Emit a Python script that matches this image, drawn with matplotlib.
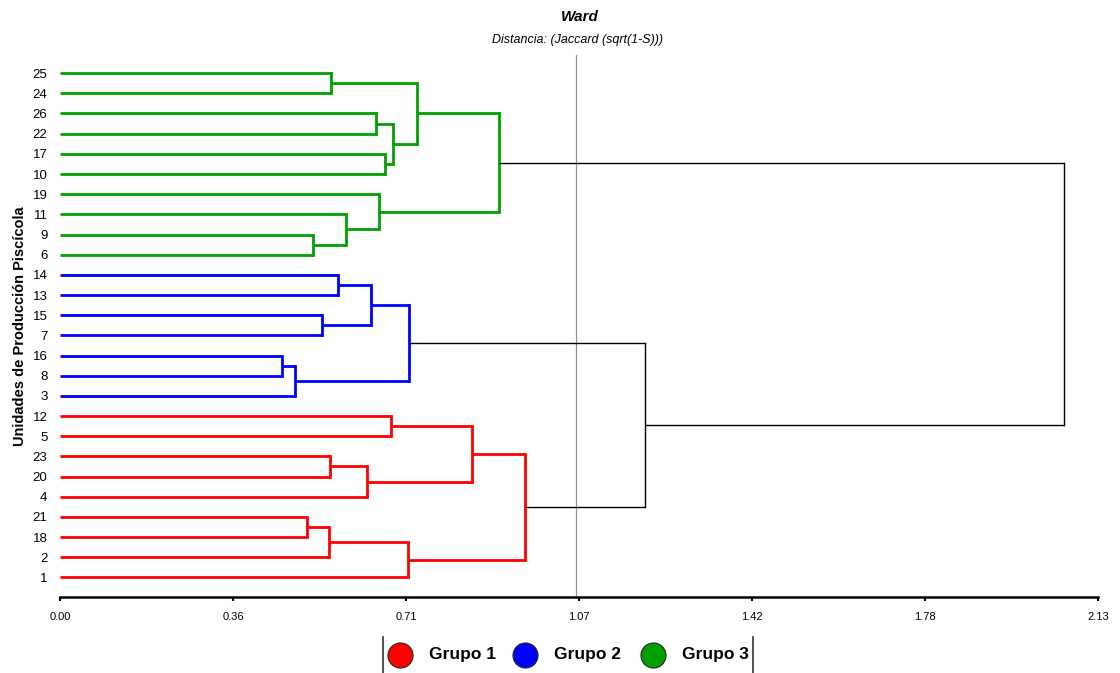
import numpy as np
import matplotlib.pyplot as plt
from matplotlib.lines import Line2D

plt.rcParams['font.family'] = ['Liberation Sans', 'DejaVu Sans']

# Leaves, top to bottom
LEAVES = ['25', '24', '26', '22', '17', '10', '19', '11', '9', '6',
          '14', '13', '15', '7', '16', '8', '3',
          '12', '5', '23', '20', '4', '21', '18', '2', '1']

# Group of each leaf (1, 2, 3)
GROUPS = [3] * 10 + [2] * 7 + [1] * 9

# Merge steps: node n<k> joins MERGE_A[k] and MERGE_B[k] at MERGE_H[k]
MERGE_A = ['16', 'n0', '21', '9', '15', 'n2', '23', '25', '14', '11',
           'n6', 'n8', '26', '19', '17', '12', 'n12', 'n5', 'n11', 'n7',
           'n15', 'n19', 'n20', 'n18', 'n21']
MERGE_B = ['8', '3', '18', '6', '7', '2', '20', '24', '13', 'n3',
           '4', 'n4', '22', 'n9', '10', '5', 'n14', '1', 'n1', 'n16',
           'n10', 'n13', 'n17', 'n22', 'n23']
MERGE_H = [0.456, 0.482, 0.507, 0.519, 0.538, 0.552, 0.554, 0.556, 0.570, 0.587,
           0.630, 0.638, 0.648, 0.654, 0.667, 0.679, 0.683, 0.714, 0.716, 0.733,
           0.845, 0.901, 0.954, 1.200, 2.060]

CUT = 1.058
X_TICKS = [0.0, 0.355, 0.71, 1.065, 1.42, 1.775, 2.13]
X_TICK_LABELS = ['0.00', '0.36', '0.71', '1.07', '1.42', '1.78', '2.13']

GROUP_COLOURS = {1: '#FF0000', 2: '#0000FF', 3: '#00A000'}
GROUP_LABELS = {1: 'Grupo 1', 2: 'Grupo 2', 3: 'Grupo 3'}

fig = plt.figure(figsize=(11.2, 6.73), dpi=100)
ax = fig.add_axes([60 / 1120, 1 - 597 / 673, 1038 / 1120, (597 - 55) / 673])

# position, height and group of every node (leaves first)
pos = {lab: i for i, lab in enumerate(LEAVES)}
hgt = {lab: 0.0 for lab in LEAVES}
grp = {lab: g for lab, g in zip(LEAVES, GROUPS)}

for k, (a, b, h) in enumerate(zip(MERGE_A, MERGE_B, MERGE_H)):
    node = f'n{k}'
    g = grp[a] if grp[a] == grp[b] else None
    colour = GROUP_COLOURS[g] if g else 'black'
    lw = 2.0 if g else 1.0
    for child in (a, b):
        ax.plot([hgt[child], h], [pos[child], pos[child]], color=colour,
                lw=lw, solid_capstyle='butt')
    ax.plot([h, h], [pos[a], pos[b]], color=colour, lw=lw,
            solid_capstyle='projecting')
    pos[node] = (pos[a] + pos[b]) / 2
    hgt[node] = h
    grp[node] = g

# cut level
ax.axvline(CUT, color='#909090', lw=0.9, zorder=0)

ax.set_xlim(0, 2.13)
ax.set_ylim(25.97, -0.9)
ax.set_yticks(range(len(LEAVES)))
ax.set_yticklabels(LEAVES, fontsize=9.5)
ax.tick_params(axis='y', length=0, pad=9)
ax.set_xticks(X_TICKS)
ax.set_xticklabels(X_TICK_LABELS, fontsize=8)
ax.tick_params(axis='x', length=3, width=1.5, pad=8)
for side in ('top', 'right', 'left'):
    ax.spines[side].set_visible(False)
ax.spines['bottom'].set_linewidth(1.8)
ax.set_ylabel('Unidades de Producción Piscícola', fontsize=10.5,
              fontweight='bold', labelpad=4)

fig.text(0.518, 1 - 17 / 673, 'Ward', ha='center', va='center',
         fontsize=11, fontweight='bold', style='italic')
fig.text(0.516, 1 - 40 / 673, 'Distancia: (Jaccard (sqrt(1-S)))',
         ha='center', va='center', fontsize=9, style='italic')

# legend strip
y_leg = 1 - 655 / 673
for xp in (383, 753):
    fig.add_artist(Line2D([xp / 1120] * 2, [1 - 637 / 673, 0],
                          color='#333333', lw=1.2))
for g, xc in zip((1, 2, 3), (400, 525, 653)):
    fig.add_artist(Line2D([xc / 1120], [y_leg], marker='o', markersize=18,
                          markerfacecolor=GROUP_COLOURS[g],
                          markeredgecolor='#222222', markeredgewidth=0.8))
    fig.text((xc + 29) / 1120, y_leg, GROUP_LABELS[g], ha='left',
             va='center', fontsize=12.5, fontweight='bold')

fig.savefig('out.png', dpi=100)
